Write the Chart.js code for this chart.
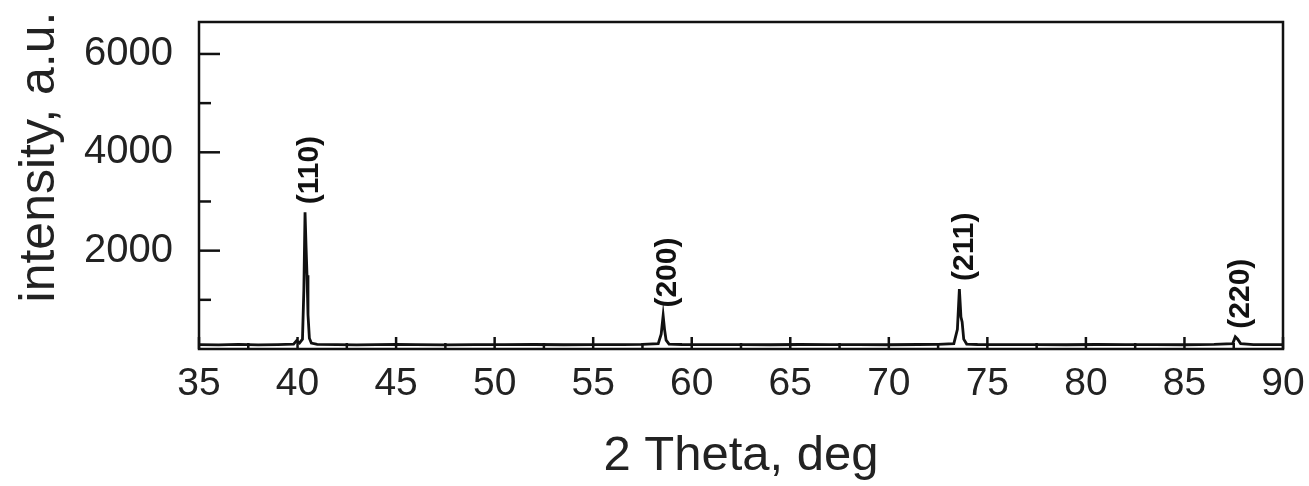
<!DOCTYPE html>
<html>
<head>
<meta charset="utf-8">
<script src="https://cdn.jsdelivr.net/npm/chart.js@4.4.0/dist/chart.umd.min.js"></script>
<style>
  html, body { margin: 0; padding: 0; background: #fff; }
  #wrap { width: 1309px; height: 486px; position: relative; }
</style>
</head>
<body>
<div id="wrap"><canvas id="xrdChart"></canvas></div>
<script>
// 2 theta (deg) and intensity (a.u.)
const thetaValues = [
  35.0, 36.0, 37.0, 38.0, 39.0, 39.8, 39.95, 40.1, 40.25, 40.32, 40.38, 40.43, 40.48, 40.53, 40.6, 40.7, 41.0,
  42.0, 43.0, 44.0, 45.0, 46.0, 47.5, 49.0, 50.5, 52.0, 53.5, 55.0, 56.5, 57.5,
  58.3, 58.45, 58.55, 58.62, 58.7, 58.85, 59.5,
  61.0, 62.5, 64.0, 65.5, 67.0, 68.5, 70.0, 71.5, 72.5,
  73.3, 73.48, 73.58, 73.66, 73.72, 73.8, 73.95, 74.5,
  76.0, 77.5, 79.0, 80.5, 82.0, 83.5, 85.0, 86.5,
  87.45, 87.58, 87.7, 87.85, 88.5, 89.3, 90.0
];
const intensityValues = [
  90, 85, 95, 85, 90, 100, 170, 120, 200, 1200, 2780, 2100, 1500, 700, 220, 120, 95,
  90, 85, 90, 95, 90, 85, 90, 88, 92, 86, 90, 88, 95,
  110, 300, 680, 400, 180, 100, 92,
  88, 90, 86, 92, 88, 90, 86, 92, 95,
  110, 400, 1220, 650, 550, 200, 100, 92,
  88, 90, 86, 92, 88, 90, 86, 95,
  110, 250, 200, 110, 90, 88, 90
];

// reflection labels and where they sit on the 2 theta axis
const peakLabels = ['(110)', '(200)', '(211)', '(220)'];
const peakTheta = [40.38, 58.55, 73.58, 87.58];

// tick marks: labelled ones and the small in-between ones
const xTickValues = [35, 37.5, 40, 42.5, 45, 47.5, 50, 52.5, 55, 57.5, 60, 62.5, 65, 67.5, 70, 72.5, 75, 77.5, 80, 82.5, 85, 87.5, 90];
const xTickLabels = ['35', '', '40', '', '45', '', '50', '', '55', '', '60', '', '65', '', '70', '', '75', '', '80', '', '85', '', '90'];
const yTickValues = [1000, 2000, 3000, 4000, 5000, 6000];
const yTickLabels = ['', '2000', '', '4000', '', '6000'];

const xTitle = '2 Theta, deg';
const yTitle = 'intensity, a.u.';

const points = thetaValues.map((t, i) => ({ x: t, y: intensityValues[i] }));
const FONT = '"Liberation Sans", Arial, sans-serif';

// frame, inward ticks, y title and peak labels
const framePlugin = {
  id: 'frame',
  afterDatasetsDraw(chart) {
    const ctx = chart.ctx;
    const a = chart.chartArea;
    const xs = chart.scales.x;
    const ys = chart.scales.y;
    ctx.save();
    ctx.strokeStyle = '#111';
    ctx.lineWidth = 2.5;
    ctx.strokeRect(a.left, a.top, a.right - a.left, a.bottom - a.top);

    xTickValues.forEach((v, i) => {
      const px = xs.getPixelForValue(v);
      const len = xTickLabels[i] ? 12 : 6;
      ctx.beginPath();
      ctx.moveTo(px, a.bottom);
      ctx.lineTo(px, a.bottom - len);
      ctx.stroke();
    });
    yTickValues.forEach((v, i) => {
      const py = ys.getPixelForValue(v);
      const len = yTickLabels[i] ? 21 : 12;
      ctx.beginPath();
      ctx.moveTo(a.left, py);
      ctx.lineTo(a.left + len, py);
      ctx.stroke();
    });

    // y axis title, a bit above the plot centre as in the original
    ctx.fillStyle = '#222';
    ctx.font = '50px ' + FONT;
    ctx.textAlign = 'center';
    ctx.textBaseline = 'middle';
    ctx.save();
    ctx.translate(40, 157);
    ctx.rotate(-Math.PI / 2);
    ctx.fillText(yTitle, 0, 0);
    ctx.restore();

    ctx.fillStyle = '#111';
    ctx.font = 'bold 30px ' + FONT;
    ctx.textAlign = 'left';
    peakLabels.forEach((lab, i) => {
      let top = 0;
      points.forEach(p => {
        if (Math.abs(p.x - peakTheta[i]) < 0.3 && p.y > top) top = p.y;
      });
      const px = xs.getPixelForValue(peakTheta[i]) + 5;
      const py = ys.getPixelForValue(top) - 8;
      ctx.save();
      ctx.translate(px, py);
      ctx.rotate(-Math.PI / 2);
      ctx.fillText(lab, 0, 0);
      ctx.restore();
    });
    ctx.restore();
  }
};

const config = {
  type: 'line',
  data: {
    datasets: [{
      label: 'XRD',
      data: points,
      borderColor: '#111',
      borderWidth: 2.8,
      pointRadius: 0,
      tension: 0,
      fill: false
    }]
  },
  options: {
    responsive: true,
    maintainAspectRatio: false,
    animation: false,
    layout: { padding: { left: 0, right: 26, top: 22, bottom: 0 } },
    plugins: {
      legend: { display: false },
      tooltip: { enabled: false }
    },
    scales: {
      x: {
        type: 'linear',
        min: 35,
        max: 90,
        grid: { display: false, drawTicks: false },
        border: { display: false },
        afterBuildTicks: s => { s.ticks = xTickValues.map(v => ({ value: v })); },
        ticks: {
          autoSkip: false,
          maxRotation: 0,
          padding: 12,
          color: '#222',
          font: { family: FONT, size: 39 },
          callback: (v, i) => xTickLabels[i]
        },
        title: {
          display: true,
          text: xTitle,
          color: '#222',
          padding: { top: 0, bottom: 0 },
          font: { family: FONT, size: 49 }
        },
        afterFit: s => { s.height = 137; s.paddingLeft = 0; s.paddingRight = 0; }
      },
      y: {
        min: 0,
        max: 6650,
        grid: { display: false, drawTicks: false },
        border: { display: false },
        afterBuildTicks: s => { s.ticks = yTickValues.map(v => ({ value: v })); },
        ticks: {
          autoSkip: false,
          padding: 26,
          color: '#222',
          font: { family: FONT, size: 40 },
          callback: (v, i) => yTickLabels[i]
        },
        title: { display: false, text: yTitle },
        afterFit: s => { s.width = 199; s.paddingTop = 0; s.paddingBottom = 0; }
      }
    }
  },
  plugins: [framePlugin]
};

var ctx = document.getElementById('xrdChart').getContext('2d');
var xrdChart = new Chart(ctx, config);
</script>
</body>
</html>
